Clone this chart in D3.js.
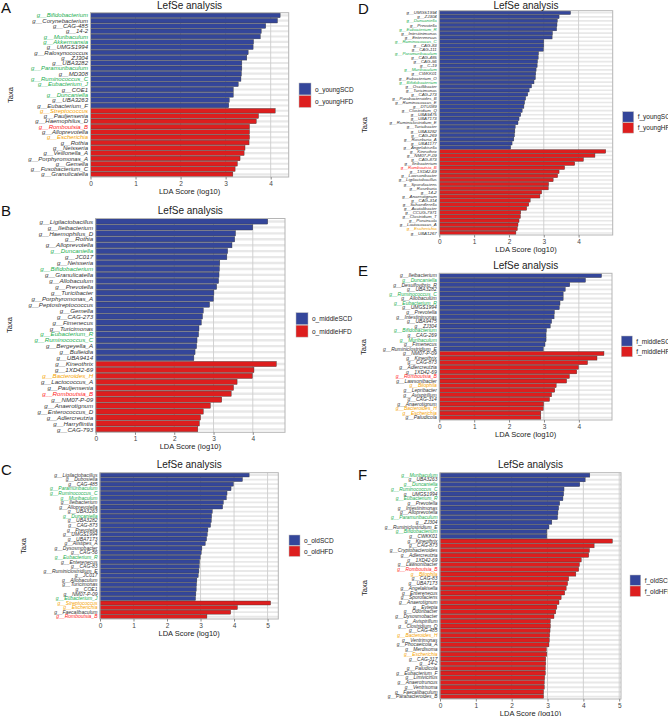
<!DOCTYPE html>
<html><head><meta charset="utf-8">
<script src="https://cdn.jsdelivr.net/npm/d3@7/dist/d3.min.js"></script>
<style>body{margin:0;background:#fff}svg{display:block;font-family:"Liberation Sans",Arial,sans-serif}</style>
</head><body><svg id="c" width="668" height="716"></svg>
<script>
// ---------- DATA ----------
const greenTaxa = ["g__Bifidobacterium","g__Muribaculum","g__Akkermansia","g__Paramuribaculum","g__Ruminococcus_C","g__Eubacterium_J","g__Duncaniella","g__Eubacterium_R"];
const orangeTaxa = ["g__Streptococcus","g__Escherichia","g__Bacteroides_H","g__Bilophila"];
const redTaxa = ["g__Romboutsia_B"];

// Panel A
const aSCDTaxa = ["g__Bifidobacterium","g__Corynebacterium","g__CAG-485","g__14-2","g__Muribaculum","g__Akkermansia","g__UMGS1994","g__Ralosynococcus","g__ZJ304","g__UBA3282","g__Paramuribaculum","g__MD308","g__Ruminococcus_C","g__Eubacterium_J","g__COE1","g__Duncaniella","g__UBA3263","g__Eubacterium_F"];
const aSCDLda = [4.21,4.15,3.89,3.79,3.77,3.62,3.61,3.50,3.47,3.36,3.36,3.35,3.34,3.28,3.17,3.17,3.08,3.07];
const aHFDTaxa = ["g__Streptococcus","g__Pauljensenia","g__Haemophilus_D","g__Romboutsia_B","g__Alloprevotella","g__Escherichia","g__Rothia","g__Neisseria","g__Veillonella_A","g__Porphyromonas_A","g__Gemella","g__Fusobacterium_C","g__Granulicatella"];
const aHFDLda = [4.10,3.73,3.68,3.53,3.53,3.53,3.52,3.43,3.41,3.32,3.26,3.21,3.16];
const aLegend = ["o_youngSCD","o_youngHFD"];

// Panel B
const bSCDTaxa = ["g__Ligilactobacillus","g__Ileibacterium","g__Haemophilus_D","g__Rothia","g__Alloprevotella","g__Duncaniella","g__JC017","g__Neisseria","g__Bifidobacterium","g__Granulicatella","g__Allobaculum","g__Prevotella","g__Turicibacter","g__Porphyromonas_A","g__Peptostreptococcus","g__Gemella","g__CAG-273","g__Fimenecus","g__Turicimonas","g__Eubacterium_R","g__Ruminococcus_C","g__Bergeyella_A","g__Bulleidia","g__UBA9414"];
const bSCDLda = [4.38,4.00,3.56,3.54,3.47,3.36,3.34,3.16,3.15,3.14,3.13,3.08,3.01,3.00,2.90,2.74,2.72,2.69,2.63,2.62,2.58,2.57,2.53,2.50];
const bHFDTaxa = ["g__Kineothrix","g__1XD42-69","g__Bacteroides_H","g__Lactococcus_A","g__Pauljensenia","g__Romboutsia_B","g__NM07-P-09","g__Anaerotignum","g__Enterococcus_D","g__Adlercreutzia","g__Harryflintia","g__CAG-793"];
const bHFDLda = [4.60,4.03,3.99,3.60,3.51,3.45,3.21,2.92,2.74,2.67,2.64,2.60];
const bLegend = ["o_middleSCD","o_middleHFD"];

// Panel C
const cSCDTaxa = ["g__Ligilactobacillus","g__Dubosiella","g__CAG-485","g__Paramuribaculum","g__Ruminococcus_C","g__Muribaculum","g__Ileibacterium","g__Alloprevotella","g__UBA3263","g__Duncaniella","g__UBA3282","g__CAG-873","g__Prevotella","g__UMGS1994","g__UBA7173","g__Alistipes_A","g__Dysosmobacter","g__CAG-56","g__Eubacterium_R","g__Enterenecus","g__CAG-83","g__Ruminiclostridium_E","g__JC017","g__Allobaculum","g__Turicimonas","g__COE1","g__NM07-P-09","g__Eubacterium_J"];
const cSCDLda = [4.45,4.25,3.98,3.91,3.79,3.77,3.68,3.66,3.35,3.33,3.32,3.30,3.22,3.20,3.18,3.14,3.04,3.02,2.99,2.97,2.96,2.95,2.93,2.89,2.88,2.87,2.86,2.85];
const cHFDTaxa = ["g__Streptococcus","g__Escherichia","g__Faecalibaculum","g__Romboutsia_B"];
const cHFDLda = [5.09,4.10,3.90,3.19];
const cLegend = ["o_oldSCD","o_oldHFD"];

// Panel D
const dSCDTaxa = ["g__UMGS1994","g__ZJ304","g__Duncaniella","g__Prevotella","g__Eubacterium_R","g__Intestinimonas","g__Enterenecus","g__Ruminococcus_C","g__CAG-83","g__CAG-111","g__Paramuribaculum","g__CAG-485","g__CAG-56","g__C-19","g__Muribaculum","g__CWKK01","g__Eubacterium_O","g__Bifidobacterium","g__Oscillibacter","g__Turicimonas","g__CAG-273","g__Parabacteroides_B","g__Ruminococcus_E","g__DTU089","g__Clostridium_Q","g__UBA9475","g__UBA7173","g__Ruminiclostridium_E","g__Turicibacter","g__UBA3282","g__CAG-269","g__Roseburia_A","g__UBA1177","g__Angelakisella"];
const dSCDLda = [3.77,3.44,3.39,3.38,3.37,3.25,3.24,3.00,3.00,2.99,2.85,2.84,2.82,2.81,2.78,2.77,2.76,2.72,2.65,2.58,2.54,2.48,2.45,2.43,2.38,2.34,2.29,2.26,2.18,2.17,2.16,2.14,2.09,2.05];
const dHFDTaxa = ["g__Kineothrix","g__NM07-P-09","g__CAG-873","g__Ileibacterium","g__Romboutsia_B","g__1XD42-69","g__Lawsonibacter","g__Ligilactobacillus","g__Sporofaciens","g__Roseburia","g__14-2","g__Anaerotignum","g__CAG-314","g__Schaedlerella","g__Acutalibacter","g__CCUG-7971","g__Clostridium_T","g__Porcincola","g__Lactococcus_A","g__Escherichia","g__UBA1267"];
const dHFDLda = [4.78,4.47,4.14,3.89,3.60,3.44,3.40,3.27,3.14,3.13,2.94,2.89,2.61,2.57,2.51,2.34,2.33,2.29,2.26,2.24,2.20];
const dLegend = ["f_youngSCD","f_youngHFD"];

// Panel E
const eSCDTaxa = ["g__Ileibacterium","g__Duncaniella","g__Desulfovibrio_R","g__UBA3282","g__Ruminococcus_C","g__Allobaculum","g__Eubacterium_R","g__UMGS1994","g__Prevotella","g__Intestinimonas","g__UBA9475","g__ZJ304","g__Bifidobacterium","g__CAG-269","g__Muribaculum","g__Fimenecus","g__Ruminiclostridium_E"];
const eSCDLda = [4.65,4.19,3.74,3.61,3.55,3.55,3.46,3.44,3.30,3.29,3.22,3.18,3.07,3.06,3.06,3.03,2.98];
const eHFDTaxa = ["g__NM07-P-09","g__Kineothrix","g__CAG-873","g__Adlercreutzia","g__1XD42-69","g__Romboutsia_B","g__Lawsonibacter","g__Bilophila","g__Lepribacter","g__Avispirillum","g__CAG-314","g__Anaerotignum","g__Bacteroides_H","g__Escherichia","g__Paludicola"];
const eHFDLda = [4.72,4.52,4.25,3.99,3.94,3.73,3.65,3.35,3.31,3.22,3.16,2.99,2.98,2.91,2.91];
const eLegend = ["f_middleSCD","f_middleHFD"];

// Panel F
const fSCDTaxa = ["g__Muribaculum","g__UBA3263","g__Duncaniella","g__Ruminococcus_C","g__UMGS1994","g__Eubacterium_R","g__Prevotella","g__Intestinimonas","g__Alloprevotella","g__Paramuribaculum","g__ZJ304","g__Ruminiclostridium_E","g__Bifidobacterium","g__CWKK01"];
const fSCDLda = [4.18,4.05,3.90,3.46,3.45,3.43,3.34,3.31,3.29,3.28,3.12,3.04,2.98,2.98];
const fHFDTaxa = ["g__Kineothrix","g__CAG-873","g__Cryptobacteroides","g__Adlercreutzia","g__1XD42-69","g__Lawsonibacter","g__Romboutsia_B","g__Bilophila","g__CAG-83","g__UBA7173","g__Angelakisella","g__Enterenecus","g__Sporofaciens","g__Anaerotignum","g__Evtepia","g__Odoribacter","g__Dysosmobacter","g__Avispirillum","g__Clostridium_Q","g__CAG-485","g__Bacteroides_H","g__Ventrimonas","g__Phocaeicola_A","g__Merdisoma","g__Escherichia","g__CAG-317","g__14-2","g__Paludicola","g__Eubacterium_F","g__Limivicinus","g__Anaerotruncus","g__Ventrisoma","g__Faecalibaculum","g__Parabacteroides_B"];
const fHFDLda = [4.81,4.30,4.17,4.15,3.94,3.89,3.87,3.79,3.59,3.56,3.52,3.48,3.38,3.32,3.26,3.23,3.18,3.08,3.08,3.07,3.06,3.05,3.04,2.97,2.98,2.95,2.95,2.94,2.94,2.92,2.91,2.91,2.89,2.89];
const fLegend = ["f_oldSCD","f_oldHFD"];

const ticks4 = [0,1,2,3,4];
const ticks5 = [0,1,2,3,4,5];

// ---------- DRAW ----------
const svg = d3.select("#c");
const BLUE = "#34469A", RED = "#DD1E1E";

function labelColor(n){
  if (greenTaxa.includes(n)) return "#1AAE4F";
  if (orangeTaxa.includes(n)) return "#F5A300";
  if (redTaxa.includes(n)) return "#FF1A1A";
  return "#333";
}

function panel(p){
  const rows = p.scdT.map((t,i)=>({t, v:p.scdV[i], g:0}))
    .concat(p.hfdT.map((t,i)=>({t, v:p.hfdV[i], g:1})));
  const g = svg.append("g");
  const x = d3.scaleLinear().domain([0,p.xmax]).range([p.l,p.r]);
  const y = d3.scaleBand().domain(rows.map((d,i)=>i)).range([p.t,p.b]).paddingInner(0.12).paddingOuter(0.06);
  const bw = y.step();
  g.append("rect").attr("x",p.l).attr("y",p.t).attr("width",p.r-p.l).attr("height",p.b-p.t).attr("fill","#fff");
  g.selectAll(".hg").data(rows).join("line")
    .attr("x1",p.l).attr("x2",p.r)
    .attr("y1",(d,i)=>y(i)+y.bandwidth()/2).attr("y2",(d,i)=>y(i)+y.bandwidth()/2)
    .attr("stroke","#e8e8e8").attr("stroke-width",bw*0.4);
  g.selectAll(".vg").data(p.ticks).join("line")
    .attr("x1",d=>x(d)).attr("x2",d=>x(d)).attr("y1",p.t).attr("y2",p.b)
    .attr("stroke","#cdcdcd").attr("stroke-width",0.9);
  g.selectAll(".bar").data(rows).join("rect")
    .attr("x",x(0)).attr("y",(d,i)=>y(i)).attr("width",d=>x(d.v)-x(0)).attr("height",y.bandwidth())
    .attr("fill",d=>d.g?RED:BLUE).attr("stroke","#3a3a3a").attr("stroke-width",0.4);
  g.append("rect").attr("x",p.l).attr("y",p.t).attr("width",p.r-p.l).attr("height",p.b-p.t)
    .attr("fill","none").attr("stroke","#b5b5b5").attr("stroke-width",1);
  const ax = g.append("g").attr("transform",`translate(0,${p.b})`)
    .call(d3.axisBottom(x).tickValues(p.ticks).tickFormat(d3.format("d")).tickSize(2.5).tickPadding(1.5));
  ax.select(".domain").remove();
  ax.selectAll("line").attr("stroke","#888");
  ax.selectAll("text").attr("font-size",6.5).attr("fill","#444").attr("font-family","Liberation Sans, Arial");
  g.selectAll(".yl").data(rows).join("text")
    .attr("x",p.l-2.5).attr("y",(d,i)=>y(i)+y.bandwidth()/2).attr("dy","0.35em")
    .attr("text-anchor","end").attr("font-style","italic").attr("font-size",p.fs)
    .attr("fill",d=>labelColor(d.t)).text(d=>d.t);
  g.append("text").attr("x",(p.l+p.r)/2).attr("y",Math.max(p.t-4.5,8.5)).attr("text-anchor","middle")
    .attr("font-size",10).attr("fill","#222").text("LefSe analysis");
  g.append("text").attr("x",(p.l+p.r)/2).attr("y",p.b+16.5).attr("text-anchor","middle")
    .attr("font-size",7.5).attr("fill","#222").text("LDA Score (log10)");
  g.append("text").attr("transform",`translate(${p.taxaX},${p.taxaY}) rotate(-90)`)
    .attr("text-anchor","middle").attr("font-size",7.5).attr("fill","#222").text("Taxa");
  g.append("text").attr("x",p.lx).attr("y",p.ly).attr("font-size",15).attr("fill","#111").text(p.letter);
  const lg = g.append("g");
  [BLUE,RED].forEach((c,i)=>{
    lg.append("rect").attr("x",p.legX).attr("y",p.legY+i*p.legS).attr("width",p.legW).attr("height",p.legS-0.6)
      .attr("fill",c).attr("stroke","#bbb").attr("stroke-width",0.5);
    lg.append("text").attr("x",p.legX+p.legW+4).attr("y",p.legY+i*p.legS+p.legS/2).attr("dy","0.35em")
      .attr("font-size",6.5).attr("fill","#222").text(p.legend[i]);
  });
}

panel({letter:"A",lx:1,ly:13,scdT:aSCDTaxa,scdV:aSCDLda,hfdT:aHFDTaxa,hfdV:aHFDLda,legend:aLegend,
  l:90.5,r:288.7,t:12.7,b:177,xmax:4.4,ticks:ticks4,fs:6.0,taxaX:13,taxaY:95,legX:299,legY:83,legW:12,legS:12.5});
panel({letter:"B",lx:1,ly:216,scdT:bSCDTaxa,scdV:bSCDLda,hfdT:bHFDTaxa,hfdV:bHFDLda,legend:bLegend,
  l:95.7,r:285,t:218.5,b:432.3,xmax:4.82,ticks:ticks4,fs:6.2,taxaX:12,taxaY:325,legX:296,legY:312.7,legW:12,legS:12.5});
panel({letter:"C",lx:1,ly:475,scdT:cSCDTaxa,scdV:cSCDLda,hfdT:cHFDTaxa,hfdV:cHFDLda,legend:cLegend,
  l:100,r:278.3,t:472.7,b:619,xmax:5.32,ticks:ticks5,fs:5.0,taxaX:26,taxaY:546,legX:289,legY:535,legW:11,legS:11});
panel({letter:"D",lx:358,ly:14,scdT:dSCDTaxa,scdV:dSCDLda,hfdT:dHFDTaxa,hfdV:dHFDLda,legend:dLegend,
  l:439.3,r:612.7,t:10.7,b:235,xmax:4.98,ticks:ticks4,fs:4.4,taxaX:367,taxaY:125,legX:622.7,legY:111.7,legW:11,legS:11});
panel({letter:"E",lx:358,ly:276,scdT:eSCDTaxa,scdV:eSCDLda,hfdT:eHFDTaxa,hfdV:eHFDLda,legend:eLegend,
  l:439.3,r:612,t:273.3,b:420,xmax:4.95,ticks:ticks4,fs:5.0,taxaX:366,taxaY:347,legX:621.3,legY:336,legW:11,legS:10.7});
panel({letter:"F",lx:358,ly:480,scdT:fSCDTaxa,scdV:fSCDLda,hfdT:fHFDTaxa,hfdV:fHFDLda,legend:fLegend,
  l:440,r:621,t:472.7,b:699,xmax:5.05,ticks:ticks5,fs:4.9,taxaX:367,taxaY:588,legX:630,legY:575,legW:10.7,legS:11});
</script></body></html>
